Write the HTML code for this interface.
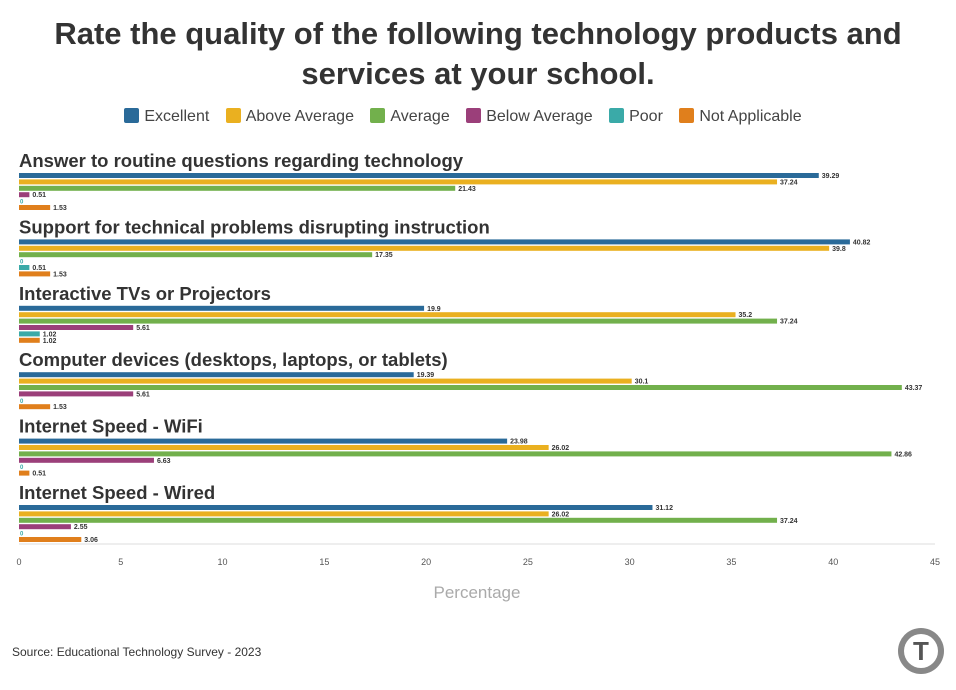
<!DOCTYPE html>
<html><head><meta charset="utf-8"><style>
body{margin:0;background:#fff;font-family:"Liberation Sans",sans-serif;}
#wrap{position:relative;width:956px;height:690px;overflow:hidden}
h1{position:absolute;top:14px;left:0;width:956px;margin:0;text-align:center;font-size:31px;line-height:40px;color:#333;font-weight:bold}
.legend{position:absolute;top:108px;left:0;width:926px;text-align:center;font-size:16px;color:#444}
.legend span{display:inline-block;margin:0 6px}
.legend i{display:inline-block;width:15px;height:15px;border-radius:2px;vertical-align:-2px;margin-right:5px}
.src{position:absolute;left:12px;top:645px;font-size:12px;color:#333}
</style></head><body><div id="wrap">
<h1>Rate the quality of the following technology products and<br>services at your school.</h1>
<div class="legend">
<span><i style="background:#2a6a99"></i>Excellent</span>
<span><i style="background:#eab020"></i>Above Average</span>
<span><i style="background:#72b04c"></i>Average</span>
<span><i style="background:#9b3f7a"></i>Below Average</span>
<span><i style="background:#3aaaa8"></i>Poor</span>
<span><i style="background:#e07f1c"></i>Not Applicable</span>
</div>
<svg id="plot" width="956" height="690" style="position:absolute;left:0;top:0"></svg>
<div class="src">Source: Educational Technology Survey - 2023</div>
<svg width="50" height="50" style="position:absolute;left:896px;top:626px"><circle cx="25" cy="25" r="23" fill="#888"/><circle cx="25" cy="25" r="17" fill="#fff"/><text x="25" y="34" text-anchor="middle" font-size="26" font-weight="bold" fill="#555" font-family="Liberation Sans">T</text></svg>
</div>
<script>
const categories=["Answer to routine questions regarding technology","Support for technical problems disrupting instruction","Interactive TVs or Projectors","Computer devices (desktops, laptops, or tablets)","Internet Speed - WiFi","Internet Speed - Wired"];
const excellent=[39.29,40.82,19.9,19.39,23.98,31.12];
const aboveAverage=[37.24,39.8,35.2,30.1,26.02,26.02];
const average=[21.43,17.35,37.24,43.37,42.86,37.24];
const belowAverage=[0.51,0,5.61,5.61,6.63,2.55];
const poor=[0,0.51,1.02,0,0,0];
const notApplicable=[1.53,1.53,1.02,1.53,0.51,3.06];
const ticks=[0,5,10,15,20,25,30,35,40,45];
const series=[["excellent",excellent,"#2a6a99"],["above-average",aboveAverage,"#eab020"],["average",average,"#72b04c"],["below-average",belowAverage,"#9b3f7a"],["poor",poor,"#3aaaa8"],["not-applicable",notApplicable,"#e07f1c"]];
const svg=document.getElementById('plot');const NS="http://www.w3.org/2000/svg";
const x=v=>19+v*(916/45);
function mk(t,a){const e=document.createElementNS(NS,t);for(const k in a)e.setAttribute(k,a[k]);svg.appendChild(e);return e;}
const ax=mk('line',{x1:19,x2:935,y1:544,y2:544,stroke:'#ddd'});


ticks.forEach(t=>{const e=mk('text',{x:x(t),y:565,'text-anchor':'middle','font-size':9,fill:'#555','font-family':'Liberation Sans'});e.textContent=t;

});
const xt=mk('text',{x:477,y:598,'text-anchor':'middle','font-size':17,fill:'#aaa','font-family':'Liberation Sans'});xt.textContent='Percentage';


categories.forEach((c,i)=>{const gy=160+i*66.4;
const t=mk('text',{x:19,y:gy+7,'font-size':18.5,'font-weight':'bold',fill:'#333','font-family':'Liberation Sans'});t.textContent=c;


series.forEach((s,j)=>{const v=s[1][i];const by=gy+13+j*6.4;
if(v>0){const r=mk('rect',{x:19,y:by,width:x(v)-19,height:5,fill:s[2]});

}
const l=mk('text',{x:v>0?x(v)+3:20,y:by+5,'font-size':v>0?7:6,'font-weight':'bold',fill:v>0?'#333':'#3aaaa8','font-family':'Liberation Sans'});l.textContent=v;

});});
</script></body></html>
